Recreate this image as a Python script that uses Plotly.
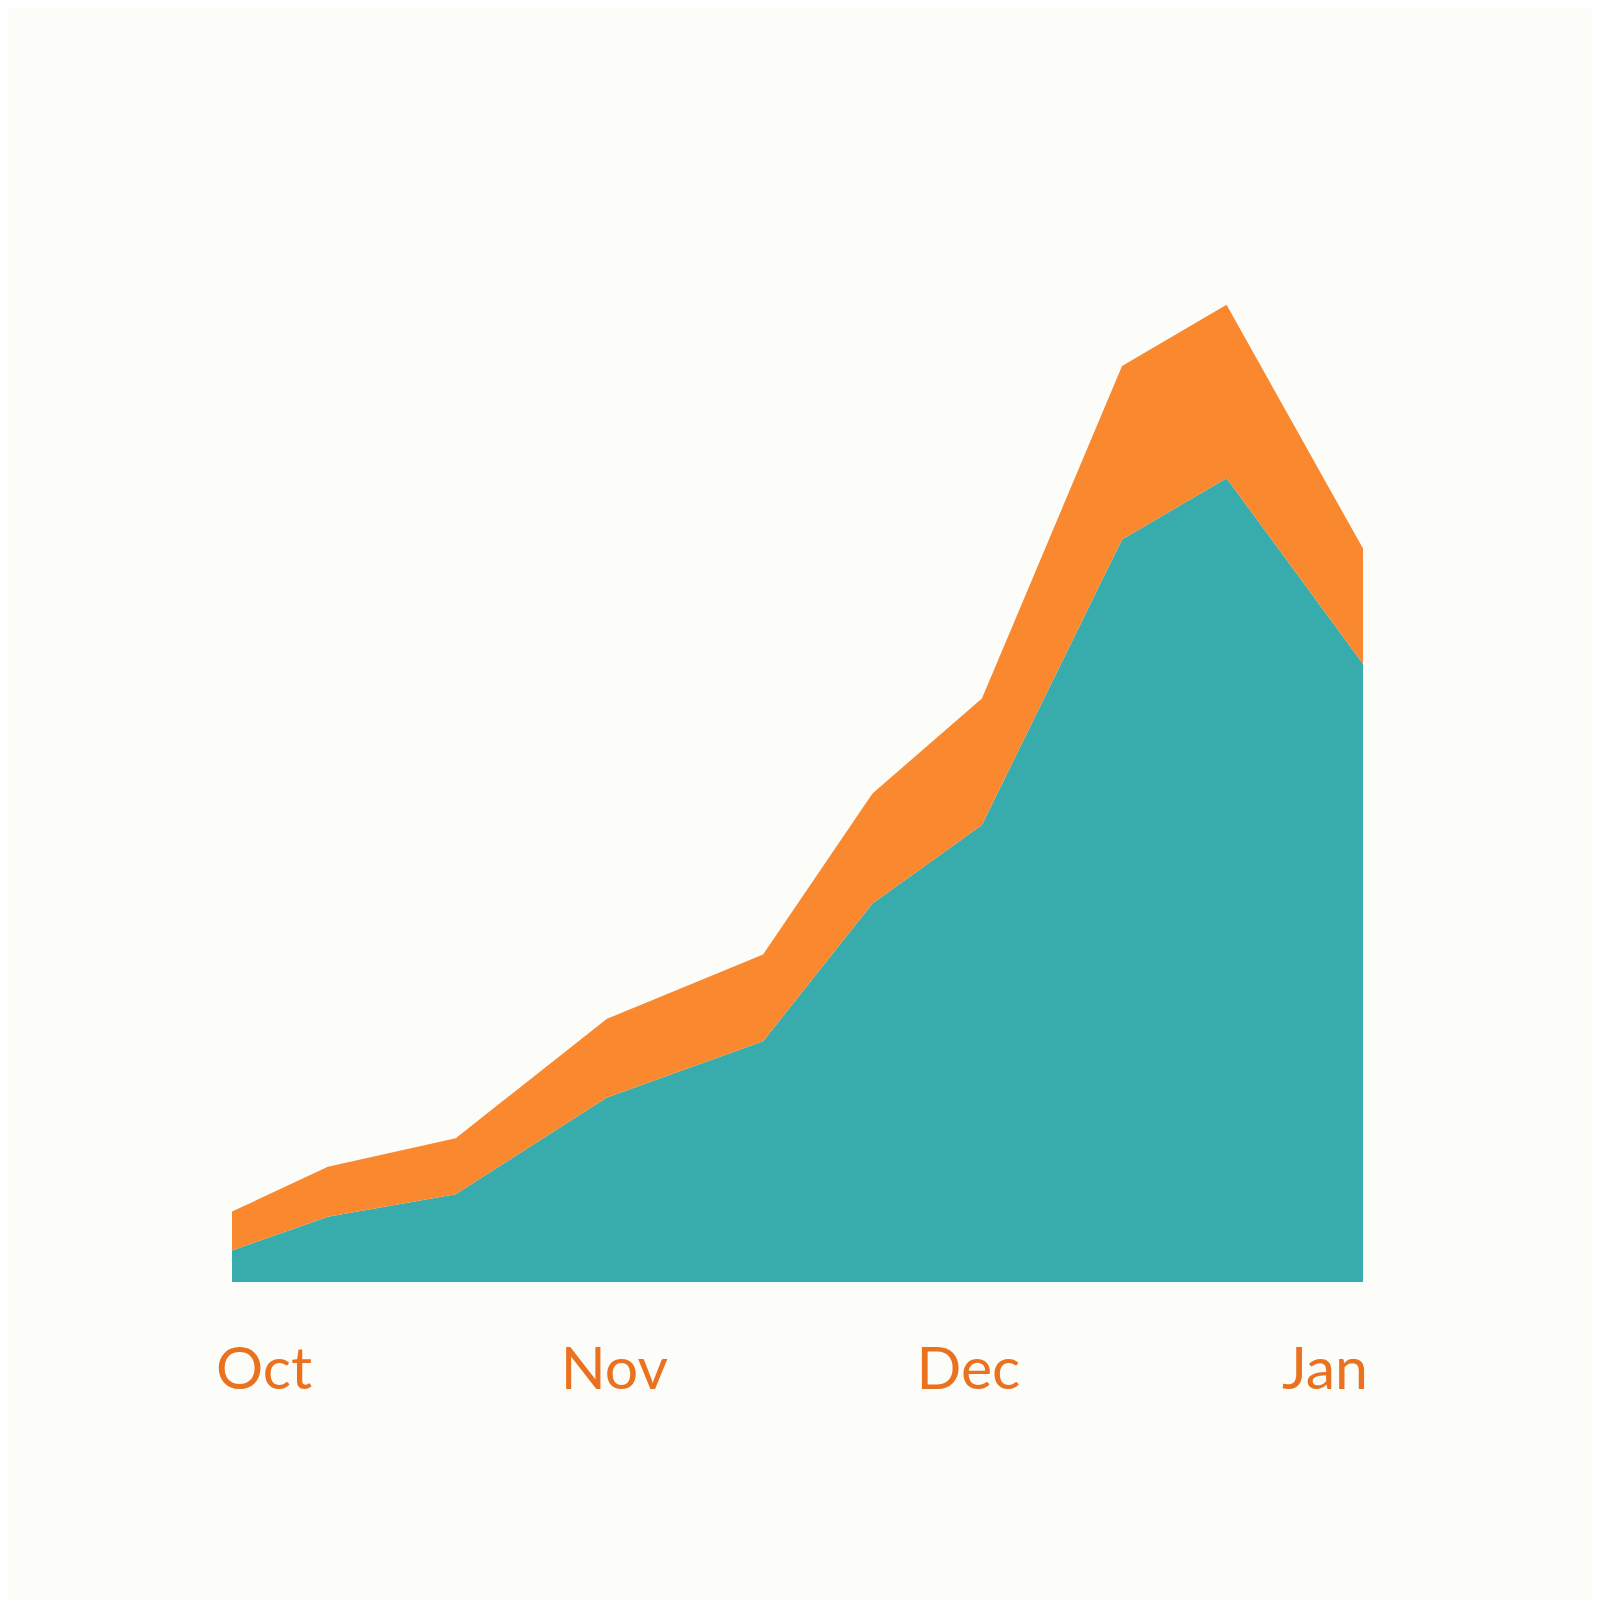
import plotly.graph_objects as go

# Days since 1 Oct for each sample
days = [0, 7.8, 18.2, 30.5, 43.2, 52.1, 61.0, 72.4, 80.9, 92]

# Stacked series values
teal_values = [3.1, 6.4, 8.6, 18.1, 23.6, 37.1, 44.8, 72.8, 78.8, 60.6]
orange_values = [3.8, 4.9, 5.5, 7.7, 8.5, 10.8, 12.4, 17.0, 17.0, 11.3]

# Month labels on the x axis
month_labels = ["Oct", "Nov", "Dec", "Jan"]
month_ticks = [2.6, 31.1, 59.9, 88.9]

bg_color = "#FCFCF8"
teal = "#38ABAD"
orange = "#F9882F"
label_color = "#EA721F"

fig = go.Figure()
fig.add_trace(go.Scatter(
    x=days, y=teal_values, stackgroup="one", mode="lines",
    line=dict(width=0, color=teal), fillcolor=teal, name="teal",
))
fig.add_trace(go.Scatter(
    x=days, y=orange_values, stackgroup="one", mode="lines",
    line=dict(width=0, color=orange), fillcolor=orange, name="orange",
))

fig.update_layout(
    width=1600, height=1600,
    paper_bgcolor=bg_color, plot_bgcolor=bg_color,
    margin=dict(l=224, r=245, t=254, b=326),
    showlegend=False,
    font=dict(family="Lato", color=label_color),
)
fig.update_xaxes(
    range=[0, 92], showgrid=False, zeroline=False, showline=False,
    tickmode="array", tickvals=month_ticks, ticktext=month_labels,
    ticks="", tickfont=dict(size=59, color=label_color),
    ticklabelstandoff=47,
)
fig.update_yaxes(range=[0, 100], showgrid=False, zeroline=False,
                 showline=False, showticklabels=False)

fig.write_html("out.html")
